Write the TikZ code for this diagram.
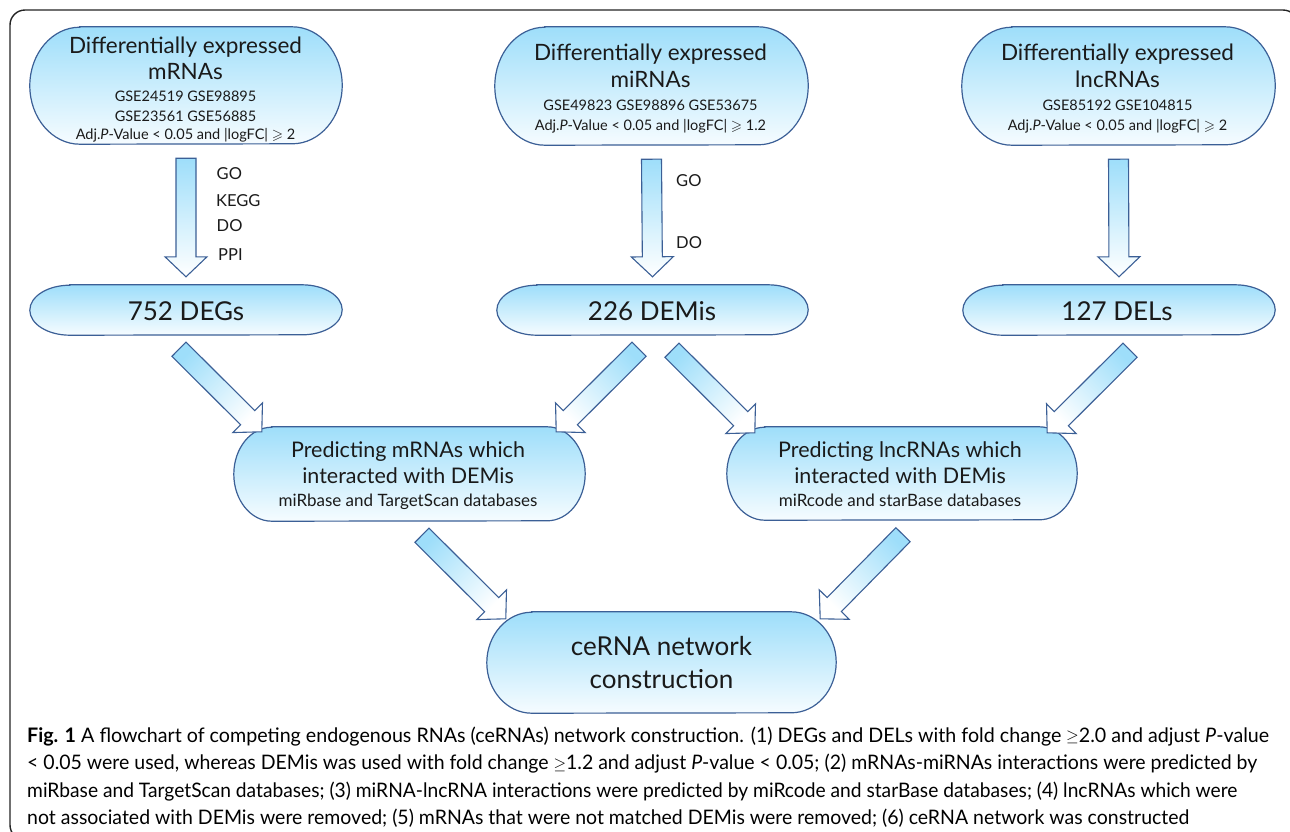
\documentclass[tikz,border=0pt]{standalone}
\usepackage{fontspec}
\usepackage{amssymb}
\setmainfont{Lato}
\usetikzlibrary{calc}

\definecolor{edge}{RGB}{59,95,150}
\definecolor{skyfill}{RGB}{158,222,250}
\definecolor{palefill}{RGB}{246,252,255}
\definecolor{ink}{RGB}{26,26,26}
\definecolor{framec}{RGB}{35,35,35}

% font sizes (1pt = 1 drawing unit)
\newcommand\titlesize{\fontsize{22.5}{27}\selectfont}
\newcommand\smallsize{\fontsize{14.5}{19}\selectfont}
\newcommand\countsize{\fontsize{26}{30}\selectfont}
\newcommand\predsize{\fontsize{21.5}{26}\selectfont}
\newcommand\dbsize{\fontsize{17}{20}\selectfont}
\newcommand\labelsize{\fontsize{16.5}{20}\selectfont}
\newcommand\capsize{\fontsize{20}{24}\selectfont}
\newcommand\capgeq{\raisebox{0.5pt}{\scalebox{0.8}{$\geq$}}}

\tikzset{
  stage/.style={rectangle, inner sep=0pt},
  pillbody/.style={draw=edge, line width=1.2pt, top color=skyfill, bottom color=palefill},
  flowarrow/.style={draw=edge, line width=1.1pt, top color=skyfill, bottom color=white, line join=miter},
  txt/.style={anchor=base, inner sep=0pt, text=ink},
  tag/.style={anchor=base west, inner sep=0pt, text=ink, font=\labelsize},
  capline/.style={anchor=base west, inner sep=0pt, text=black, font=\capsize},
}

% stadium outline with elliptic ends around a named node: #1 node, #2 x radius, #3 y radius
\newcommand\pill[3]{%
  \path[pillbody] ([xshift=#2]#1.north west) -- ([xshift=-#2]#1.north east)
    arc[start angle=90, end angle=-90, x radius=#2, y radius=#3]
    -- ([xshift=#2]#1.south west)
    arc[start angle=270, end angle=90, x radius=#2, y radius=#3] -- cycle;}

% hollow block arrow from coordinate #2 (tail) to coordinate #3 (tip)
\newcommand\flow[3][]{%
  \coordinate (fb) at ($(#3)!20pt!(#2)$);
  \path[flowarrow,#1] ($(#2)!10pt!90:(#3)$) -- ($(fb)!10pt!90:(#3)$)
    -- ($(fb)!21pt!90:(#3)$) -- (#3) -- ($(fb)!21pt!-90:(#3)$)
    -- ($(fb)!10pt!-90:(#3)$) -- ($(#2)!10pt!-90:(#3)$) -- cycle;}

\begin{document}
\begin{tikzpicture}[x=1pt, y=-1pt]
\useasboundingbox (0,0) rectangle (1290,831);

% outer frame
\draw[framec, line width=1.4pt, rounded corners=15pt] (10,10) rectangle (1298,840);

% ---- stage boxes
\node[stage, minimum width=312pt, minimum height=117pt] (mrna)  at (186,85.5) {};
\node[stage, minimum width=313pt, minimum height=118pt] (mirna) at (651.5,86) {};
\node[stage, minimum width=313pt, minimum height=118pt] (lnc)   at (1118.5,86) {};
\node[stage, minimum width=312pt, minimum height=50pt]  (degs)  at (186,310) {};
\node[stage, minimum width=311pt, minimum height=50pt]  (demis) at (652.5,310) {};
\node[stage, minimum width=312pt, minimum height=50pt]  (dels)  at (1119,310) {};
\node[stage, minimum width=351pt, minimum height=94pt]  (predm) at (409.5,474) {};
\node[stage, minimum width=350pt, minimum height=93pt]  (predl) at (902,473.5) {};
\node[stage, minimum width=349pt, minimum height=101pt] (cerna) at (661.5,662.5) {};

\pill{mrna}{50pt}{58.5pt}
\pill{mirna}{50pt}{59pt}
\pill{lnc}{50pt}{59pt}
\pill{degs}{40pt}{25pt}
\pill{demis}{40pt}{25pt}
\pill{dels}{40pt}{25pt}
\pill{predm}{38pt}{47pt}
\pill{predl}{38pt}{46.5pt}
\pill{cerna}{45pt}{50.5pt}

% ---- arrows
\coordinate (d1s) at ([yshift=-14pt]mrna.south);
\coordinate (d1e) at ([yshift=8pt]degs.north);
\coordinate (d2s) at ([yshift=-14pt]mirna.south);
\coordinate (d2e) at ([yshift=8pt]demis.north);
\coordinate (d3s) at ([yshift=-14pt]lnc.south);
\coordinate (d3e) at ([yshift=8pt]dels.north);
\flow[shading angle=0]{d1s}{d1e}
\flow[shading angle=0]{d2s}{d2e}
\flow[shading angle=0]{d3s}{d3e}

\coordinate (a1s) at ($(degs.south)+(-7,14)$);
\coordinate (a1e) at ($(predm.north west)+(28,5)$);
\coordinate (a2s) at ($(demis.south)+(-13.5,14)$);
\coordinate (a2e) at ($(predm.north east)+(-29,5)$);
\coordinate (a3s) at ($(demis.south)+(19.5,15)$);
\coordinate (a3e) at ($(predl.north west)+(28,6)$);
\coordinate (a4s) at ($(dels.south)+(11,15)$);
\coordinate (a4e) at ($(predl.north east)+(-30,6)$);
\coordinate (a5s) at ($(predm.south)+(12.5,14)$);
\coordinate (a5e) at ($(cerna.north west)+(19,7)$);
\coordinate (a6s) at ($(predl.south)+(1,14.5)$);
\coordinate (a6e) at ($(cerna.north east)+(-16,7)$);
\flow[shading angle=45]{a1s}{a1e}
\flow[shading angle=-45]{a2s}{a2e}
\flow[shading angle=45]{a3s}{a3e}
\flow[shading angle=-45]{a4s}{a4e}
\flow[shading angle=45]{a5s}{a5e}
\flow[shading angle=-45]{a6s}{a6e}

% ---- texts of the stages
\node[txt, font=\titlesize] (mrna-t1) at (185.5,53.3) {Differentially expressed};
\node[txt, font=\titlesize] (mrna-t2) at (185.5,79.3) {mRNAs};
\node[txt, font=\smallsize] (mrna-t3) at (185.5,101.7) {GSE24519 GSE98895};
\node[txt, font=\smallsize] (mrna-t4) at (185.5,121.7) {GSE23561 GSE56885};
\node[txt, font=\smallsize] (mrna-t5) at (185.5,139.5) {Adj.\textit{P}-Value < 0.05 and |logFC| $\geqslant$ 2};

\node[txt, font=\titlesize] (mirna-t1) at (650.5,60.7) {Differentially expressed};
\node[txt, font=\titlesize] (mirna-t2) at (650.5,87.3) {miRNAs};
\node[txt, font=\smallsize] (mirna-t3) at (650.5,110) {GSE49823 GSE98896 GSE53675};
\node[txt, font=\smallsize] (mirna-t4) at (650.5,130) {Adj.\textit{P}-Value < 0.05 and |logFC| $\geqslant$ 1.2};

\node[txt, font=\titlesize] (lnc-t1) at (1117.5,60.7) {Differentially expressed};
\node[txt, font=\titlesize] (lnc-t2) at (1117.5,87.3) {lncRNAs};
\node[txt, font=\smallsize] (lnc-t3) at (1117.5,110) {GSE85192 GSE104815};
\node[txt, font=\smallsize] (lnc-t4) at (1117.5,130) {Adj.\textit{P}-Value < 0.05 and |logFC| $\geqslant$ 2};

\node[txt, font=\countsize] (degs-t)  at (186,320) {752 DEGs};
\node[txt, font=\countsize] (demis-t) at (652,320) {226 DEMis};
\node[txt, font=\countsize] (dels-t)  at (1117,320) {127 DELs};

\node[txt, font=\predsize] (predm-t1) at (408,457.7) {Predicting mRNAs which};
\node[txt, font=\predsize] (predm-t2) at (408,483.3) {interacted with DEMis};
\node[txt, font=\dbsize]   (predm-t3) at (408,506) {miRbase and TargetScan databases};

\node[txt, font=\predsize] (predl-t1) at (900,457.7) {Predicting lncRNAs which};
\node[txt, font=\predsize] (predl-t2) at (900,483.3) {interacted with DEMis};
\node[txt, font=\dbsize]   (predl-t3) at (900,506) {miRcode and starBase databases};

\node[txt, font=\countsize] (cerna-t1) at (661.5,655) {ceRNA network};
\node[txt, font=\countsize] (cerna-t2) at (661.5,688) {construction};

% ---- analysis labels beside the down arrows
\node[tag] (go1)   at (216.5,179.3) {GO};
\node[tag] (kegg1) at (216,206) {KEGG};
\node[tag] (do1)   at (216.5,231) {DO};
\node[tag] (ppi1)  at (218,260) {PPI};
\node[tag] (go2)   at (676,186.7) {GO};
\node[tag] (do2)   at (676,248.3) {DO};

% ---- caption
\node[capline] (cap1) at (27,742) {\resizebox{1242pt}{\height}{\textbf{Fig. 1} A flowchart of competing endogenous RNAs (ceRNAs) network construction. (1) DEGs and DELs with fold change \capgeq2.0 and adjust \textit{P}-value}};
\node[capline] (cap2) at (27,769.5) {\resizebox{1230pt}{\height}{< 0.05 were used, whereas DEMis was used with fold change \capgeq1.2 and adjust \textit{P}-value < 0.05; (2) mRNAs-miRNAs interactions were predicted by}};
\node[capline] (cap3) at (27,797) {\resizebox{1210pt}{\height}{miRbase and TargetScan databases; (3) miRNA-lncRNA interactions were predicted by miRcode and starBase databases; (4) lncRNAs which were}};
\node[capline] (cap4) at (27,824) {\resizebox{1162pt}{\height}{not associated with DEMis were removed; (5) mRNAs that were not matched DEMis were removed; (6) ceRNA network was constructed}};
\end{tikzpicture}
\end{document}
